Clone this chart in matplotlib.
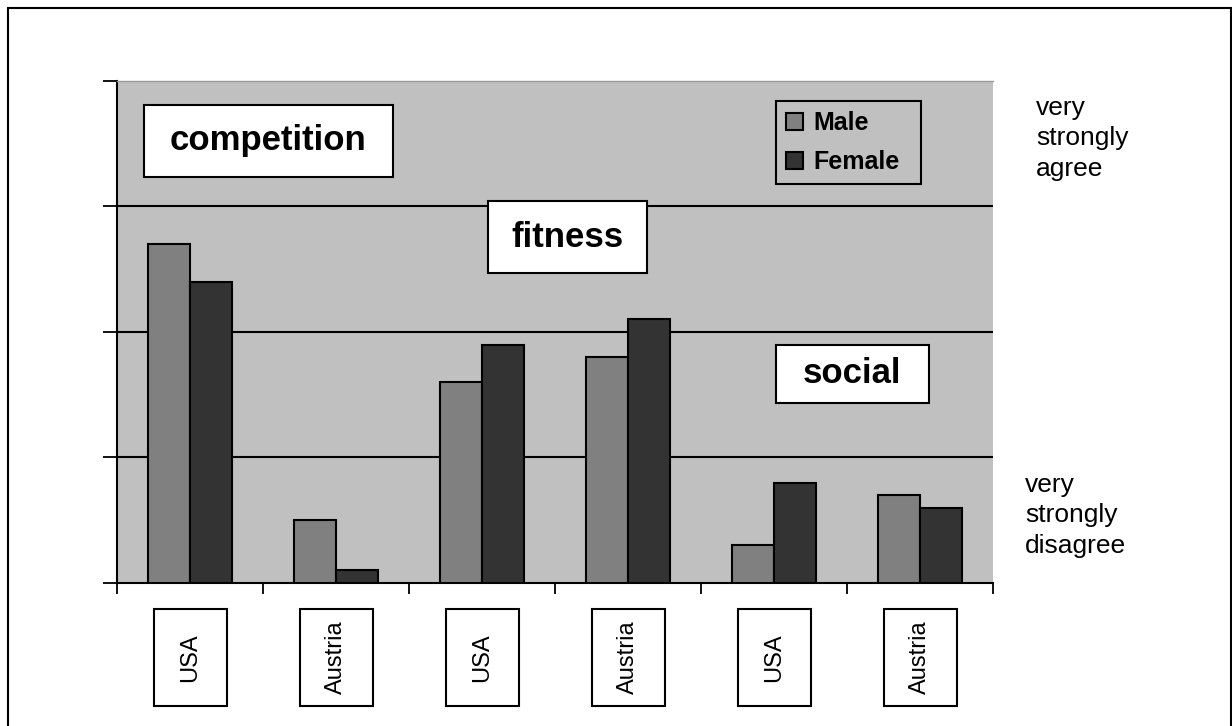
import matplotlib
matplotlib.use("Agg")
import matplotlib.pyplot as plt
from matplotlib.patches import Rectangle
from matplotlib.transforms import blended_transform_factory
import numpy as np

plt.rcParams["font.family"] = ["Liberation Sans", "DejaVu Sans"]

# survey scores per motive group (competition, fitness, social)
countries = ["USA", "Austria", "USA", "Austria", "USA", "Austria"]
male = [2.7, 0.5, 1.6, 1.8, 0.3, 0.7]
female = [2.4, 0.1, 1.9, 2.1, 0.8, 0.6]
levels = [1, 2, 3]

fig = plt.figure(figsize=(12.32, 7.26), dpi=100)
ax = fig.add_axes([0.09497, 0.19697, 0.71104, 0.69146])
ax.set_facecolor("#C0C0C0")

x = np.arange(len(countries))
w = 0.29
ax.bar(x - w / 2, male, w, color="#808080", edgecolor="black", linewidth=1.5,
       label="Male", zorder=3)
ax.bar(x + w / 2, female, w, color="#333333", edgecolor="black", linewidth=1.5,
       label="Female", zorder=3)

for lv in levels:
    ax.axhline(lv, color="black", linewidth=1.5, zorder=1)

ax.set_xlim(-0.5, len(countries) - 0.5)
ax.set_ylim(0, 4)
ax.set_yticks(range(5))
ax.set_yticklabels([])
ax.set_xticks(np.arange(len(countries) + 1) - 0.5)
ax.set_xticklabels([])
ax.tick_params(axis="y", direction="out", length=10, width=1.3)
ax.tick_params(axis="x", direction="out", length=8, width=1.3)
ax.spines["right"].set_visible(False)
ax.spines["top"].set_color("#999999")
ax.spines["top"].set_linewidth(1)
ax.spines["left"].set_linewidth(1.5)
ax.spines["bottom"].set_linewidth(1.5)

# group headings
headings = [
    ("competition", 0.0308, 0.809, 0.284, 0.143),
    ("fitness", 0.4235, 0.6175, 0.1815, 0.143),
    ("social", 0.752, 0.3586, 0.1747, 0.1155),
]
for name, hx, hy, hw, hh in headings:
    ax.add_patch(Rectangle((hx, hy), hw, hh, transform=ax.transAxes,
                           facecolor="white", edgecolor="black", linewidth=1.5,
                           zorder=5))
    ax.text(hx + hw / 2, hy + hh / 2, name, transform=ax.transAxes,
            ha="center", va="center", fontsize=25, fontweight="bold",
            zorder=6)

leg = ax.legend(loc="upper left", bbox_to_anchor=(0.752, 0.799, 0.1655, 0.161),
                mode="expand", borderaxespad=0, fancybox=False,
                edgecolor="black", facecolor="#C0C0C0", framealpha=1,
                prop={"size": 18, "weight": "bold"},
                handlelength=0.7, handleheight=0.7, handletextpad=0.4,
                borderpad=0.4, labelspacing=0.6)
leg.get_frame().set_linewidth(1.5)
leg.set_zorder(6)

# boxed category labels under the axis
trans = blended_transform_factory(ax.transData, fig.transFigure)
for i, c in enumerate(countries):
    fig.patches.append(Rectangle((i - 0.25, 0.0275), 0.5, 0.1336,
                                 transform=trans, facecolor="white",
                                 edgecolor="black", linewidth=1.5))
    fig.text(i, 0.0943, c, transform=trans, rotation=90, ha="center",
             va="center", fontsize=17)

fig.text(0.841, 0.868, "very\nstrongly\nagree", ha="left", va="top",
         fontsize=19, linespacing=1.35)
fig.text(0.832, 0.349, "very\nstrongly\ndisagree", ha="left", va="top",
         fontsize=19, linespacing=1.35)

# outer frame
fig.patches.append(Rectangle((8 / 1232, -0.01), 1223 / 1232, 1.01 - 8 / 726,
                             transform=fig.transFigure, fill=False,
                             edgecolor="black", linewidth=1.5))

fig.savefig("out.png", dpi=100)
